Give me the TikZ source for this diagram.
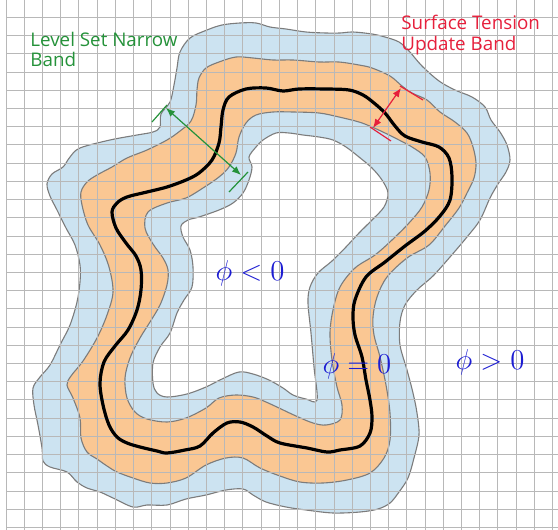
\documentclass[tikz,border=0pt]{standalone}
\usepackage{fontspec}
\newfontfamily\notefont{Open Sans}
\usetikzlibrary{arrows.meta}
\definecolor{gridgray}{HTML}{B8B8B8}
\definecolor{edgegray}{HTML}{7C7C7C}
\definecolor{bandblue}{HTML}{CCE3F1}
\definecolor{bandorange}{HTML}{FAC793}
\definecolor{notegreen}{HTML}{25923A}
\definecolor{notered}{HTML}{E6203C}
\definecolor{phiblue}{HTML}{1C1CD2}
\tikzset{
  gridline/.style={gridgray, line width=0.45pt},
  bandedge/.style={draw=edgegray, line width=0.55pt},
  notetext/.style={anchor=base west, inner sep=0pt, align=left,
    font=\notefont\fontsize{9.4}{10}\selectfont},
  philabel/.style={text=phiblue, inner sep=0pt,
    font=\fontsize{13.4}{16}\selectfont},
  widtharrow/.style={{Latex[length=4.5pt,width=3.6pt]}-{Latex[length=4.5pt,width=3.6pt]}, line width=0.6pt},
  tickline/.style={line width=0.6pt}
}

\begin{document}
\begin{tikzpicture}[x=0.5pt, y=-0.5pt]
  \useasboundingbox (0,0) rectangle (558,530);
  % level set narrow band
  \filldraw[bandblue, bandedge] plot[smooth cycle, tension=0.55] coordinates {
    (177,68) (180,52) (190,38) (207,30) (222,25) (240,23) (256,23) (270,27)
    (286,29) (306,32) (326,33) (340,33) (353,32) (372,34) (385,37) (399,42)
    (409,51) (422,66) (439,81) (455,90) (472,97) (485,107) (491,120) (500,132)
    (507,145) (510,160) (506,172) (498,184) (490,198) (480,220) (467,237)
    (450,257) (433,276) (417,290) (405,305) (400,322) (400,345) (407,370)
    (413,393) (417,413) (419,435) (414,458) (408,478) (399,492) (390,503)
    (378,509) (360,512) (333,513) (306,510) (286,507) (266,502) (253,495)
    (243,489) (226,490) (206,495) (186,499) (167,505) (147,505) (133,507)
    (113,498) (100,492) (87,488) (77,482) (67,472) (50,467) (43,461) (42,448)
    (38,425) (34,405) (33,388) (40,377) (50,365) (60,345) (70,325) (77,302)
    (80,282) (80,265) (75,245) (66,228) (57,210) (50,196) (47,184) (52,174)
    (63,167) (70,157) (80,148) (110,140) (137,135) (153,132) (160,127)
    (161,114) (170,102) (174,85)};
  % surface tension update band
  \filldraw[bandorange, bandedge] plot[smooth cycle, tension=0.55] coordinates {
    (199,78) (206,68) (219,62) (236,57) (253,58) (273,60) (293,60) (319,62)
    (339,62) (359,65) (372,68) (390,76) (402,86) (412,93) (427,100) (440,112)
    (455,122) (467,133) (473,147) (476,163) (474,178) (467,193) (459,208)
    (445,226) (429,245) (407,258) (387,277) (377,297) (373,317) (374,335)
    (380,357) (386,385) (390,413) (390,440) (384,458) (370,473) (347,480)
    (323,483) (300,482) (280,476) (260,468) (243,458) (226,458) (206,465)
    (186,478) (167,483) (150,483) (133,478) (117,472) (107,466) (97,459)
    (87,452) (81,438) (80,418) (73,398) (67,385) (71,376) (83,361) (97,338)
    (107,315) (113,292) (109,267) (100,245) (88,225) (82,205) (81,192)
    (87,182) (97,175) (112,167) (127,158) (147,150) (167,140) (180,131)
    (191,121) (196,105) (197,90)};
  \filldraw[bandblue, bandedge] plot[smooth cycle, tension=0.55] coordinates {
    (246,123) (256,115) (273,112) (293,112) (319,113) (339,117) (359,122)
    (372,127) (385,133) (399,140) (412,147) (425,157) (430,173) (429,190)
    (422,207) (409,223) (392,240) (375,255) (355,268) (340,287) (333,310)
    (330,333) (332,360) (337,387) (342,405) (340,420) (326,425) (313,423)
    (296,416) (279,408) (266,402) (253,397) (236,395) (219,398) (206,408)
    (186,418) (167,422) (147,419) (135,412) (127,398) (125,378) (130,358)
    (140,338) (150,322) (160,305) (167,285) (168,270) (163,258) (153,244)
    (145,228) (148,212) (167,203) (186,198) (203,188) (219,177) (229,167)
    (236,153) (239,137)};
  % inside, phi < 0
  \filldraw[white, bandedge] plot[smooth cycle, tension=0.55] coordinates {
    (249,157) (256,147) (263,140) (276,133) (289,133) (303,135) (319,137)
    (333,140) (346,147) (359,157) (372,168) (382,180) (388,193) (384,207)
    (372,220) (359,233) (346,247) (332,261) (318,273) (310,287) (308,303)
    (311,333) (314,367) (317,400) (306,399) (293,395) (283,388) (269,380)
    (253,374) (239,372) (222,379) (206,387) (187,394) (167,397) (157,393)
    (153,383) (153,363) (160,347) (170,333) (177,313) (184,300) (192,287)
    (193,267) (190,250) (183,237) (181,226) (188,220) (199,217) (219,210)
    (233,203) (243,193) (249,180) (252,167)};
  % grid
  \foreach \i in {0,...,30}
    \draw[gridline] ({6+18.22*\i},0) -- ({6+18.22*\i},530);
  \foreach \j in {1,...,29}
    \draw[gridline] (6,{-0.9+18.22*\j}) -- (558,{-0.9+18.22*\j});
  % phi = 0
  \draw[black, line width=1.6pt] plot[smooth cycle, tension=0.55] coordinates {
    (221,127) (223,110) (229,97) (246,89) (266,88) (283,91) (299,89) (326,89)
    (349,90) (363,95) (374,103) (385,113) (395,126) (405,136) (422,142)
    (439,147) (449,158) (452,177) (450,200) (440,216) (425,231) (405,246)
    (385,262) (366,277) (355,300) (353,317) (355,335) (362,357) (366,380)
    (370,400) (372,417) (370,433) (360,446) (340,450) (327,452) (307,448)
    (280,443) (267,436) (253,427) (240,422) (227,423) (213,433) (200,446)
    (185,450) (167,453) (157,451) (140,447) (127,443) (117,437)
    (109,425) (103,405) (100,383) (104,362) (115,346) (128,330) (137,310)
    (141,290) (141,270) (136,256) (126,243) (116,228) (112,212) (117,203)
    (127,197) (147,192) (167,187) (186,180) (199,173) (212,160) (219,143)};
  % labels
  \node[philabel] (lessLbl) at (250,273) {$\phi < 0$};
  \node[philabel] (zeroLbl) at (357,366) {$\phi = 0$};
  \node[philabel] (moreLbl) at (490,362) {$\phi > 0$};
  \node[notetext, text=notegreen] (narrowLbl) at (30,67) {Level Set Narrow\\Band};
  \node[notetext, text=notered] (tensionLbl) at (401,50) {Surface Tension\\Update Band};
  % band widths
  \coordinate (nbOut) at (166,108);
  \coordinate (nbIn) at (241,175);
  \coordinate (stOut) at (401,88);
  \coordinate (stIn) at (373,128);
  \draw[notegreen, widtharrow] (nbOut) -- (nbIn);
  \draw[notegreen, tickline] (152,122) -- (167,105);
  \draw[notegreen, tickline] (229,192) -- (248,172);
  \draw[notered, widtharrow] (stIn) -- (stOut);
  \draw[notered, tickline] (400,86) -- (423,100);
  \draw[notered, tickline] (370,127) -- (391,141);
\end{tikzpicture}
\end{document}
